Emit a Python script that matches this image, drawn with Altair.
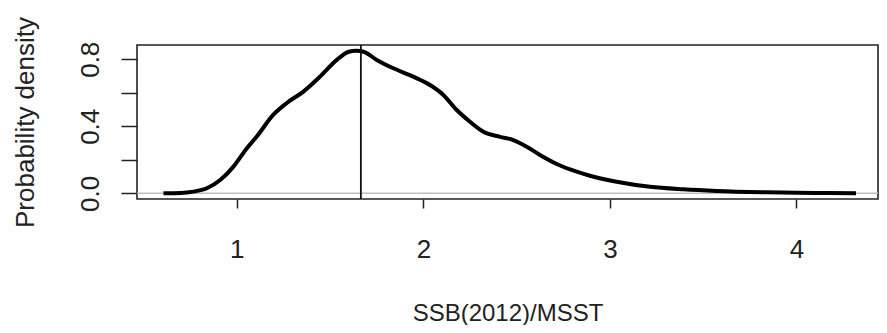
import altair as alt
import pandas as pd

# Density curve
ratio = [0.607, 0.70, 0.767, 0.839, 0.911, 0.982, 1.054, 1.107, 1.196, 1.268,
         1.357, 1.446, 1.536, 1.60, 1.64, 1.68, 1.75, 1.839, 1.946, 2.036,
         2.107, 2.179, 2.25, 2.322, 2.411, 2.482, 2.554, 2.625, 2.715, 2.822,
         2.893, 3.036, 3.215, 3.393, 3.572, 3.84, 4.1, 4.319]
density = [0.0, 0.002, 0.01, 0.03, 0.079, 0.159, 0.269, 0.339, 0.469, 0.539,
           0.607, 0.696, 0.796, 0.845, 0.851, 0.845, 0.796, 0.746, 0.696, 0.646,
           0.587, 0.497, 0.427, 0.367, 0.337, 0.318, 0.278, 0.229, 0.175, 0.129,
           0.105, 0.069, 0.039, 0.024, 0.014, 0.006, 0.002, 0.0]
vline_x = [1.665]
hline_y = [0.0]
x_ticks = [1, 2, 3, 4]
y_ticks = [0.0, 0.2, 0.4, 0.6, 0.8]

curve = pd.DataFrame({"x": ratio, "y": density})
vdf = pd.DataFrame({"x": vline_x})
hdf = pd.DataFrame({"y": hline_y})

font = "Liberation Sans, Arial, sans-serif"

xscale = alt.Scale(domain=[0.465, 4.437], nice=False, zero=False)
yscale = alt.Scale(domain=[-0.034, 0.885], nice=False, zero=False)

xaxis = alt.Axis(values=x_ticks, format="d", title="SSB(2012)/MSST",
                 grid=False, domain=False, tickSize=9, tickWidth=1.5,
                 tickColor="#222", labelFont=font, labelFontSize=26,
                 labelColor="#222", labelBaseline="alphabetic",
                 labelPadding=49, labelFlush=False,
                 titleFont=font, titleFontSize=24, titleFontWeight="normal",
                 titleColor="#222", titleBaseline="alphabetic", titleY=121)
yaxis = alt.Axis(values=y_ticks, format=".1f",
                 labelExpr="datum.label == '0.2' || datum.label == '0.6' ? '' : datum.label",
                 title="Probability density", grid=False, domain=False,
                 tickSize=16, tickWidth=1.5, tickColor="#222",
                 labelFont=font, labelFontSize=26, labelColor="#222",
                 labelAngle=270, labelAlign="center", labelBaseline="alphabetic",
                 labelPadding=23, labelFlush=False,
                 titleFont=font, titleFontSize=26,
                 titleFontWeight="normal", titleColor="#222",
                 titleAngle=270, titleAlign="center", titleBaseline="alphabetic",
                 titleX=-104, titleY=77)

hline = alt.Chart(hdf).mark_rule(color="#bdbdbd", strokeWidth=1.5).encode(
    y=alt.Y("y:Q", scale=yscale, axis=yaxis)
)
line = alt.Chart(curve).mark_line(color="black", strokeWidth=4,
                                  interpolate="monotone").encode(
    x=alt.X("x:Q", scale=xscale, axis=xaxis),
    y=alt.Y("y:Q", scale=yscale, axis=yaxis),
)
vline = alt.Chart(vdf).mark_rule(color="#111", strokeWidth=1.8).encode(
    x=alt.X("x:Q", scale=xscale, axis=xaxis)
)

chart = alt.layer(hline, line, vline).properties(
    width=741, height=154,
    autosize=alt.AutoSizeParams(type="none"),
    padding={"left": 129, "top": 37, "right": 1, "bottom": 126},
    background="white",
).configure_view(stroke="#222", strokeWidth=1.6)

chart.save("out.html", embed_options={"renderer": "svg", "actions": False})
